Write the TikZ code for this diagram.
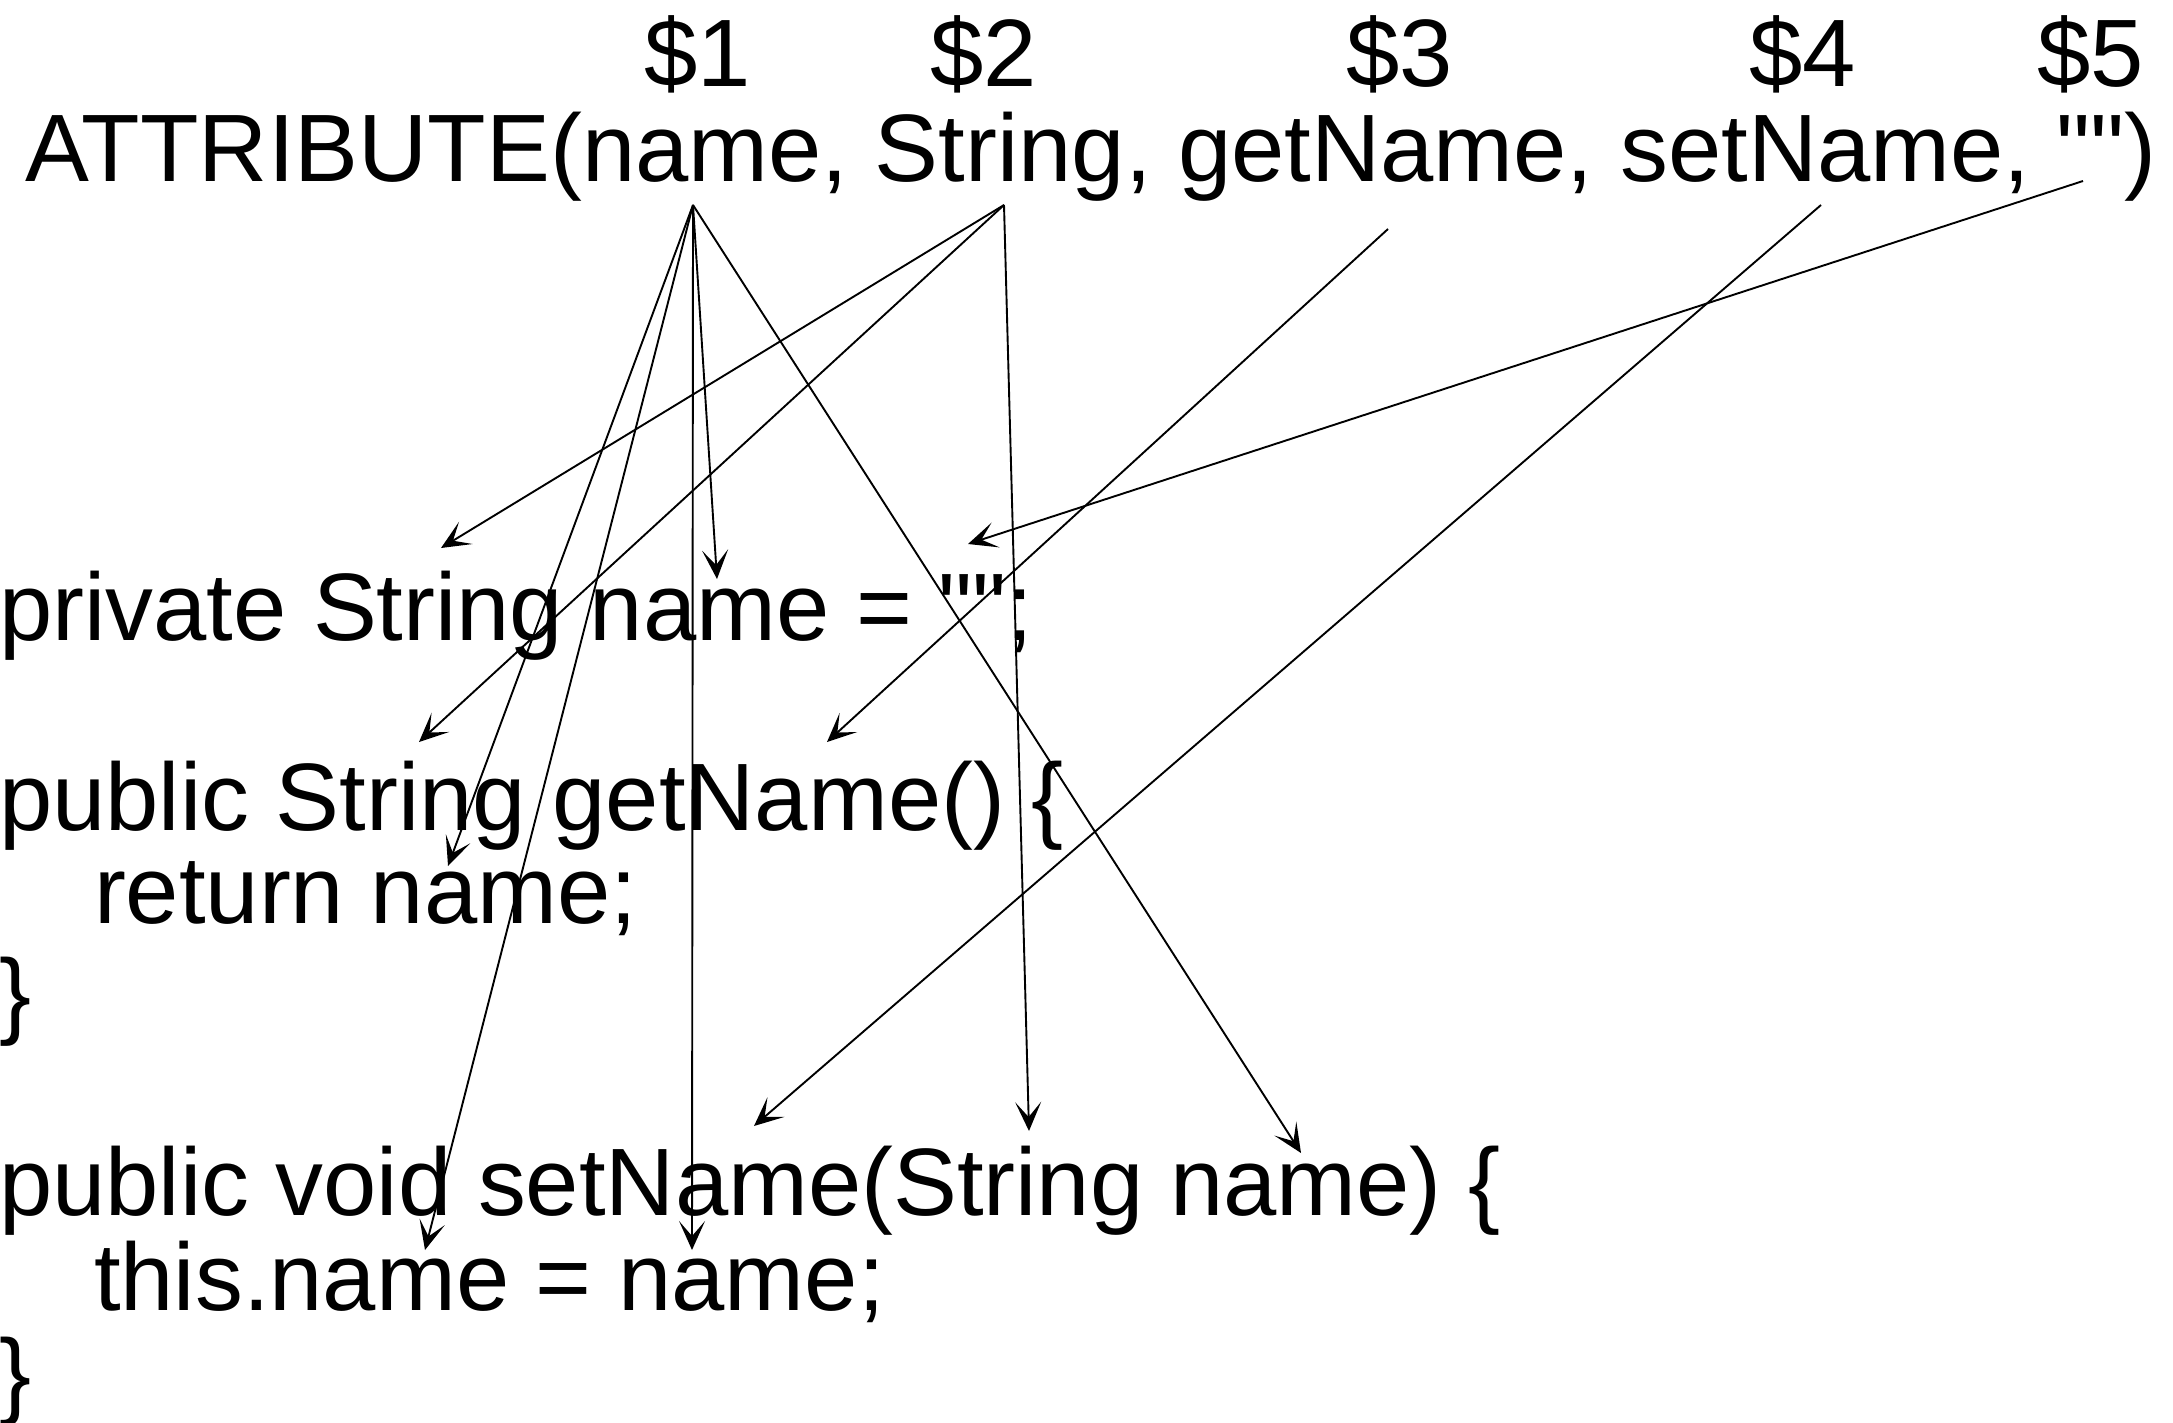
\documentclass[tikz,border=0pt]{standalone}
\usepackage{fontspec}
\setmainfont{Liberation Sans}[Ligatures=TeXOff]
\usetikzlibrary{arrows.meta}
\begin{document}
\begin{tikzpicture}[x=1pt,y=-1pt,
  txt/.style={anchor=base west,inner sep=0pt,outer sep=0pt,
              font=\fontsize{95.8}{110}\selectfont},
  link/.style={-{Stealth[length=29pt,width=26pt,inset=15pt]},line width=1.9pt}]
\useasboundingbox (0,0) rectangle (2173,1423);

% parameter numbers
\node[txt] (d1) at (644,87)  {\$1};
\node[txt] (d2) at (930,87)  {\$2};
\node[txt] (d3) at (1346,87) {\$3};
\node[txt] (d4) at (1749,87) {\$4};
\node[txt] (d5) at (2037,87) {\$5};

% macro call
\node[txt] (macro) at (25,182) {ATTRIBUTE(name, String, getName, setName, "")};

% expanded Java code
\node[txt] (field)  at (-1,640)  {private String name = "";};
\node[txt] (getter) at (-1,830)  {public String getName() \{};
\node[txt] (ret)    at (94,923)  {return name;};
\node[txt] (close1) at (-1,1026) {\}};
\node[txt] (setter) at (-1,1215) {public void setName(String name) \{};
\node[txt] (assign) at (94,1310) {this.name = name;};
\node[txt] (close2) at (-1,1406) {\}};

% argument points under the macro call
\coordinate (s1) at (693,205);
\coordinate (s2) at (1004,205);
\coordinate (s3) at (1388,229);
\coordinate (s4) at (1821,205);
\coordinate (s5) at (2083,181);

% substitution targets in the code
\coordinate (fieldName)   at (717,579);
\coordinate (fieldType)   at (441,548);
\coordinate (fieldInit)   at (968,544);
\coordinate (getType)     at (419,742);
\coordinate (getName)     at (827,742);
\coordinate (retName)     at (448,866);
\coordinate (setName)     at (754,1126);
\coordinate (argType)     at (1029,1131);
\coordinate (argName)     at (1301,1153);
\coordinate (thisName)    at (425,1250);
\coordinate (valName)     at (692,1250);

% $1 : name
\draw[link] (s1) -- (fieldName);
\draw[link] (s1) -- (valName);
\draw[link] (s1) -- (retName);
\draw[link] (s1) -- (thisName);
\draw[link] (s1) -- (argName);
% $2 : String
\draw[link] (s2) -- (fieldType);
\draw[link] (s2) -- (getType);
\draw[link] (s2) -- (argType);
% $3 : getName
\draw[link] (s3) -- (getName);
% $4 : setName
\draw[link] (s4) -- (setName);
% $5 : initial value
\draw[link] (s5) -- (fieldInit);
\end{tikzpicture}
\end{document}
